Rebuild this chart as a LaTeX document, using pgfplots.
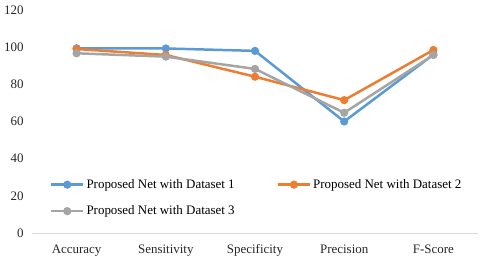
\documentclass[border=0pt]{standalone}
\usepackage{fontspec}
\setmainfont{Liberation Serif}
\usepackage{pgfplots}
\pgfplotsset{compat=1.18}
\definecolor{cblue}{HTML}{5B9BD5}
\definecolor{corange}{HTML}{ED7D31}
\definecolor{cgray}{HTML}{A5A5A5}
\begin{document}
\begin{tikzpicture}
\begin{axis}[
  scale only axis,
  width=446bp, height=223bp,
  xmin=-0.5, xmax=4.5, ymin=0, ymax=120,
  xtick={0,1,2,3,4},
  xticklabels={Accuracy,Sensitivity,Specificity,Precision,F-Score},
  ytick={0,20,...,120},
  axis x line*=bottom, axis y line*=left,
  y axis line style={draw=none},
  x axis line style={draw=black!15,-},
  major tick length=0pt,
  tick style={draw=none},
  /pgf/number format/assume math mode=true,
  ticklabel style={font=\fontsize{13}{15}\selectfont, text=black!85},
  xticklabel style={yshift=-8bp},
  yticklabel style={xshift=-5bp},
  legend columns=2,
  legend style={at={(0.04,0.25)}, anchor=north west, draw=none, fill=none,
    font=\fontsize{13}{15}\selectfont, /tikz/every even column/.append style={column sep=40bp},
    row sep=12bp, inner sep=0pt},
  legend cell align=left,
  legend image code/.code={\draw[mark repeat=2,mark phase=2,#1] plot coordinates {(0bp,0bp) (16bp,0bp) (32bp,0bp)};},
  every axis plot/.append style={line width=2.5pt, mark=*, mark size=2.8pt},
]
\addplot[cblue, mark options={fill=cblue}] coordinates {(0,99.4) (1,99.3) (2,98) (3,60) (4,96)};
\addlegendentry{Proposed Net with Dataset 1}
\addplot[corange, mark options={fill=corange}] coordinates {(0,99) (1,95.8) (2,84.1) (3,71.5) (4,98.5)};
\addlegendentry{Proposed Net with Dataset 2}
\addplot[cgray, mark options={fill=cgray}] coordinates {(0,96.7) (1,94.9) (2,88.3) (3,64.7) (4,95.8)};
\addlegendentry{Proposed Net with Dataset 3}
\end{axis}
\pgfresetboundingbox
\path[use as bounding box] (-32bp,-26bp) rectangle (448bp,233bp);
\end{tikzpicture}
\end{document}
